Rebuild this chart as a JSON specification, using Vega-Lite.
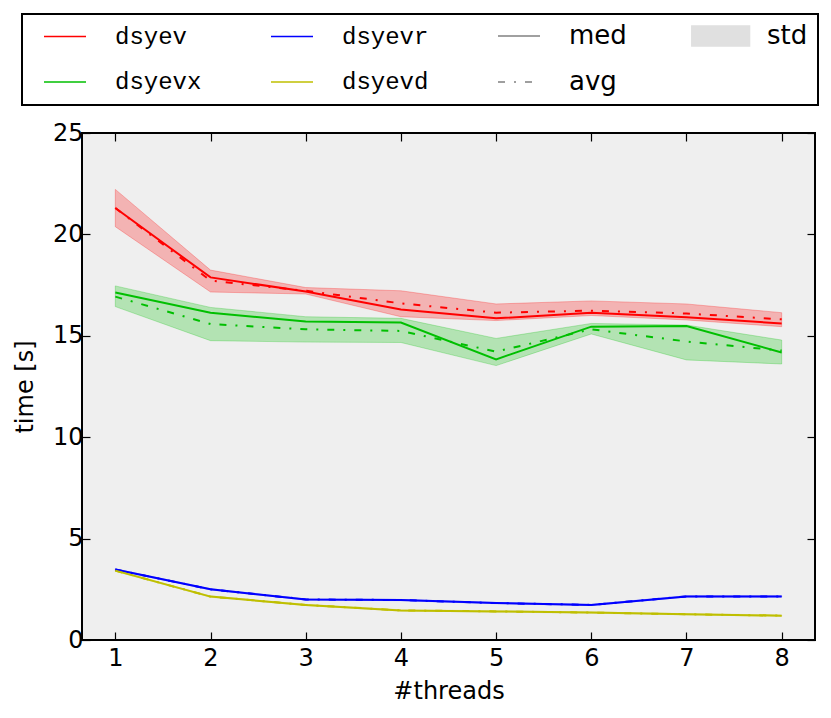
{
  "$schema": "https://vega.github.io/schema/vega-lite/v6.json",
  "width": 733,
  "height": 507,
  "autosize": {"type": "none"},
  "padding": {"left": 82, "top": 133, "right": 16, "bottom": 78},
  "background": "white",
  "config": {
    "view": {"fill": "#efefef", "stroke": "black", "strokeWidth": 2},
    "axis": {
      "labelFont": "DejaVu Sans", "titleFont": "DejaVu Sans",
      "labelFontSize": 24, "titleFontSize": 24, "titleFontWeight": "normal",
      "labelColor": "black", "titleColor": "black",
      "domain": false, "grid": false,
      "tickColor": "black", "tickSize": -8, "tickWidth": 1.2
    }
  },
  "data": {"values": [
    {"series": "dsyev", "threads": 1, "med": 21.3, "avg": 21.3, "lo": 20.38, "hi": 22.22},
    {"series": "dsyev", "threads": 2, "med": 17.88, "avg": 17.72, "lo": 17.16, "hi": 18.24},
    {"series": "dsyev", "threads": 3, "med": 17.18, "avg": 17.22, "lo": 17.06, "hi": 17.38},
    {"series": "dsyev", "threads": 4, "med": 16.3, "avg": 16.6, "lo": 15.94, "hi": 17.22},
    {"series": "dsyev", "threads": 5, "med": 15.86, "avg": 16.14, "lo": 15.75, "hi": 16.57},
    {"series": "dsyev", "threads": 6, "med": 16.14, "avg": 16.24, "lo": 16.0, "hi": 16.72},
    {"series": "dsyev", "threads": 7, "med": 15.91, "avg": 16.1, "lo": 15.78, "hi": 16.57},
    {"series": "dsyev", "threads": 8, "med": 15.61, "avg": 15.81, "lo": 15.45, "hi": 16.14},
    {"series": "dsyevx", "threads": 1, "med": 17.14, "avg": 16.93, "lo": 16.44, "hi": 17.46},
    {"series": "dsyevx", "threads": 2, "med": 16.14, "avg": 15.58, "lo": 14.76, "hi": 16.4},
    {"series": "dsyevx", "threads": 3, "med": 15.7, "avg": 15.32, "lo": 14.69, "hi": 15.94},
    {"series": "dsyevx", "threads": 4, "med": 15.65, "avg": 15.24, "lo": 14.67, "hi": 15.86},
    {"series": "dsyevx", "threads": 5, "med": 13.84, "avg": 14.22, "lo": 13.53, "hi": 14.87},
    {"series": "dsyevx", "threads": 6, "med": 15.45, "avg": 15.32, "lo": 15.09, "hi": 15.61},
    {"series": "dsyevx", "threads": 7, "med": 15.48, "avg": 14.72, "lo": 13.81, "hi": 15.53},
    {"series": "dsyevx", "threads": 8, "med": 14.18, "avg": 14.27, "lo": 13.61, "hi": 14.79},
    {"series": "dsyevr", "threads": 1, "med": 3.48, "avg": 3.48, "lo": 3.45, "hi": 3.51},
    {"series": "dsyevr", "threads": 2, "med": 2.5, "avg": 2.5, "lo": 2.47, "hi": 2.53},
    {"series": "dsyevr", "threads": 3, "med": 2.0, "avg": 2.0, "lo": 1.97, "hi": 2.03},
    {"series": "dsyevr", "threads": 4, "med": 1.97, "avg": 1.97, "lo": 1.94, "hi": 2.0},
    {"series": "dsyevr", "threads": 5, "med": 1.82, "avg": 1.82, "lo": 1.79, "hi": 1.85},
    {"series": "dsyevr", "threads": 6, "med": 1.73, "avg": 1.73, "lo": 1.7, "hi": 1.76},
    {"series": "dsyevr", "threads": 7, "med": 2.15, "avg": 2.15, "lo": 2.12, "hi": 2.18},
    {"series": "dsyevr", "threads": 8, "med": 2.15, "avg": 2.15, "lo": 2.12, "hi": 2.18},
    {"series": "dsyevd", "threads": 1, "med": 3.42, "avg": 3.42, "lo": 3.39, "hi": 3.45},
    {"series": "dsyevd", "threads": 2, "med": 2.14, "avg": 2.14, "lo": 2.11, "hi": 2.17},
    {"series": "dsyevd", "threads": 3, "med": 1.73, "avg": 1.73, "lo": 1.7, "hi": 1.76},
    {"series": "dsyevd", "threads": 4, "med": 1.46, "avg": 1.46, "lo": 1.43, "hi": 1.49},
    {"series": "dsyevd", "threads": 5, "med": 1.41, "avg": 1.41, "lo": 1.38, "hi": 1.44},
    {"series": "dsyevd", "threads": 6, "med": 1.35, "avg": 1.35, "lo": 1.32, "hi": 1.38},
    {"series": "dsyevd", "threads": 7, "med": 1.27, "avg": 1.27, "lo": 1.24, "hi": 1.3},
    {"series": "dsyevd", "threads": 8, "med": 1.2, "avg": 1.2, "lo": 1.17, "hi": 1.23}
  ]},
  "encoding": {
    "color": {
      "field": "series", "type": "nominal",
      "scale": {
        "domain": ["dsyev", "dsyevx", "dsyevr", "dsyevd", "med", "avg", "std"],
        "range": ["#ff0000", "#00bf00", "#0000ff", "#bfbf00", "#808080", "#808080", "#e0e0e0"]
      },
      "legend": {
        "title": null, "orient": "none", "legendX": -60, "legendY": -119,
        "columns": 4, "gridAlign": "each",
        "symbolType": "stroke", "symbolSize": 441, "symbolStrokeWidth": 1.5,
        "labelFontSize": 24, "labelFont": "Liberation Mono", "labelColor": "black",
        "labelOffset": 59, "columnPadding": 57, "rowPadding": 20, "padding": 10,
        "strokeColor": "black", "fillColor": "white",
        "encode": {
          "symbols": {"update": {
            "shape": {"signal": "datum.label === 'std' ? 'M-0.4,-0.95H5.1V0.95H-0.4Z' : 'M0,0H4'"},
            "fill": {"signal": "datum.label === 'std' ? '#e0e0e0' : 'transparent'"},
            "stroke": {"signal": "datum.label === 'std' ? '#d0d0d0' : scale('color', datum.value)"},
            "strokeDash": {"signal": "datum.label === 'avg' ? [7, 9, 2, 9] : []"},
            "strokeWidth": {"value": 1.5},
            "opacity": {"value": 1},
            "fillOpacity": {"value": 1},
            "strokeOpacity": {"value": 1}
          }},
          "labels": {"update": {
            "font": {"signal": "indexof(['med','avg','std'], datum.label) >= 0 ? 'DejaVu Sans' : 'Liberation Mono'"},
            "fontSize": {"signal": "indexof(['med','avg','std'], datum.label) >= 0 ? 26 : 24"}
          }},
          "legend": {"update": {"strokeWidth": {"value": 2}}}
        }
      }
    }
  },
  "layer": [
    {
      "mark": {"type": "area", "fillOpacity": 0.25},
      "encoding": {
        "x": {"field": "threads", "type": "quantitative",
              "scale": {"domain": [0.65, 8.35], "nice": false, "zero": false},
              "axis": {"orient": "bottom", "values": [1, 2, 3, 4, 5, 6, 7, 8], "format": "d", "title": "#threads", "labelPadding": 14, "titlePadding": 9}},
        "y": {"field": "lo", "type": "quantitative",
              "scale": {"domain": [0, 25], "nice": false, "zero": false},
              "axis": {"orient": "left", "values": [0, 5, 10, 15, 20, 25], "title": "time [s]", "labelPadding": 7, "titlePadding": 15}},
        "y2": {"field": "hi"}
      }
    },
    {
      "mark": {"type": "area", "filled": false, "strokeOpacity": 0.25, "strokeWidth": 1},
      "encoding": {
        "x": {"field": "threads", "type": "quantitative", "axis": null},
        "y": {"field": "lo", "type": "quantitative", "axis": null},
        "y2": {"field": "hi"}
      }
    },
    {
      "mark": {"type": "line", "strokeWidth": 2},
      "encoding": {
        "x": {"field": "threads", "type": "quantitative",
              "axis": {"orient": "top", "values": [1, 2, 3, 4, 5, 6, 7, 8], "labels": false, "title": null}},
        "y": {"field": "med", "type": "quantitative",
              "axis": {"orient": "right", "values": [0, 5, 10, 15, 20, 25], "labels": false, "title": null}}
      }
    },
    {
      "mark": {"type": "line", "strokeWidth": 2, "strokeDash": [7, 9, 2, 9]},
      "encoding": {
        "x": {"field": "threads", "type": "quantitative", "axis": null},
        "y": {"field": "avg", "type": "quantitative", "axis": null}
      }
    }
  ],
  "resolve": {"axis": {"x": "independent", "y": "independent"}}
}
